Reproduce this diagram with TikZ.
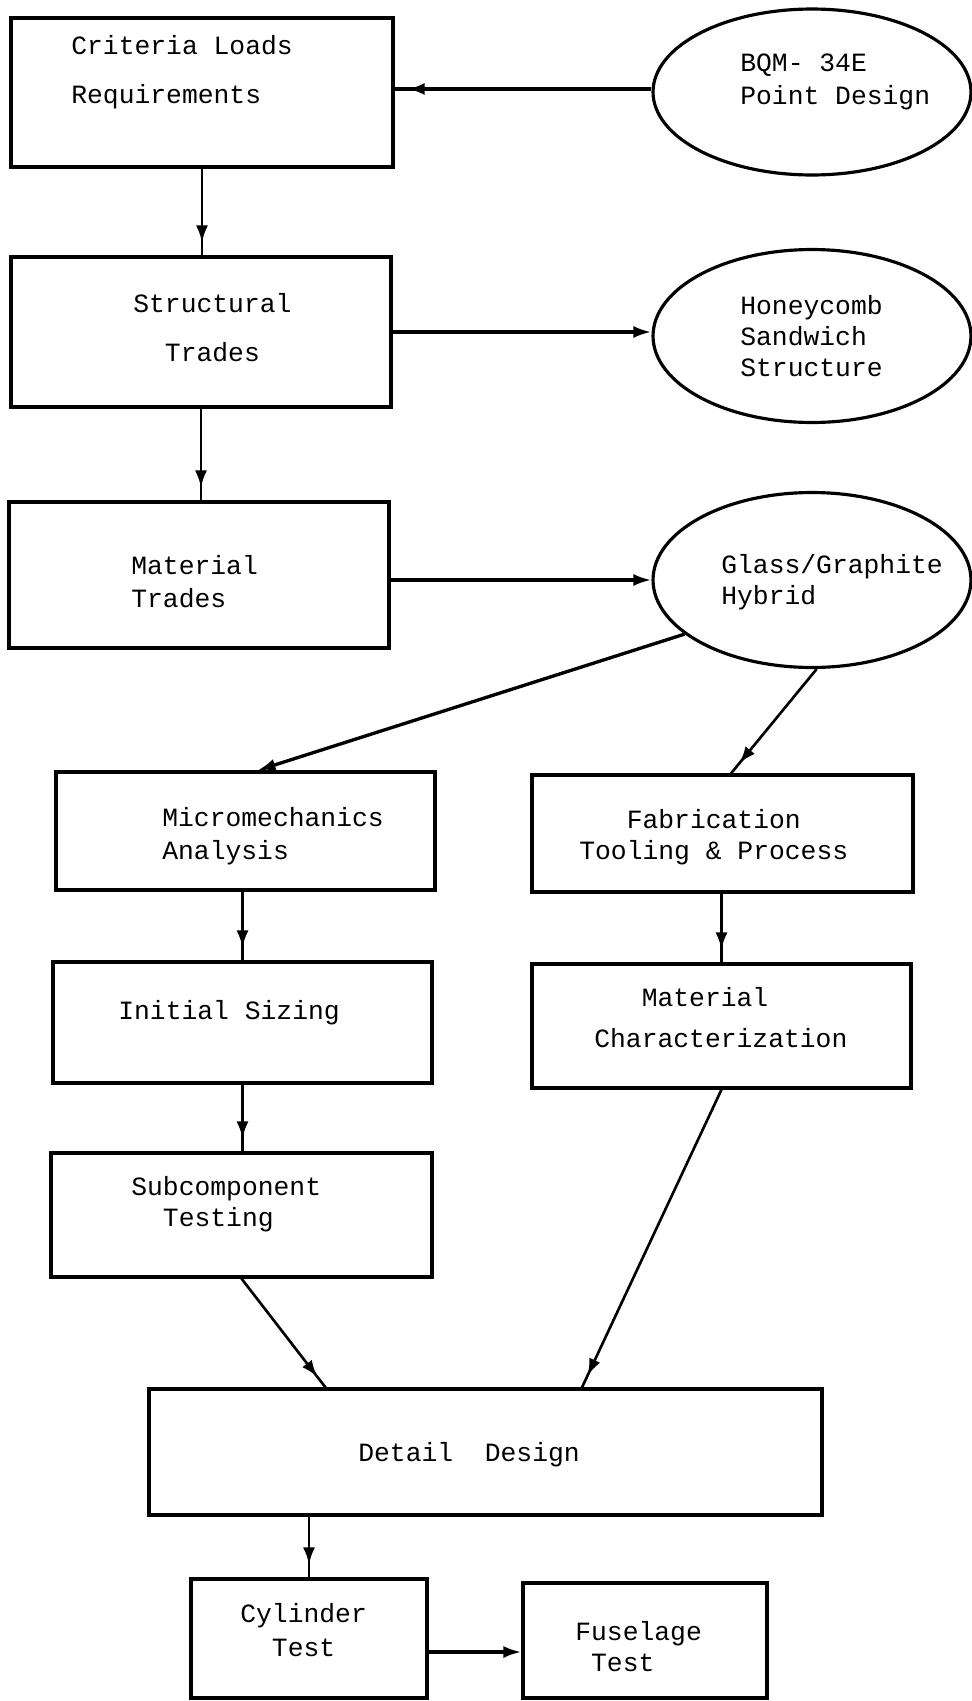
\documentclass[tikz,border=0pt]{standalone}
\usepackage{fontspec}
\usepackage{tikz}
\usetikzlibrary{arrows.meta}
\usetikzlibrary{decorations.markings}
\usetikzlibrary{shapes.geometric}
\newfontfamily\typewr{Liberation Mono}

\tikzset{
  blk/.style={draw, rectangle, line width=1.8pt, inner sep=0pt},
  oval/.style={draw, ellipse, line width=1.8pt, inner sep=0pt},
  txt/.style={anchor=west, inner sep=0pt, align=left,
    font=\typewr\fontsize{15}{17.6}\selectfont},
  flow/.style={line width=1.5pt, postaction={decorate},
    decoration={markings, mark=at position -0.26cm with
      {\arrow{Latex[length=0.34cm, width=0.24cm]}}}},
  flowto/.style={line width=1.9pt, -{Latex[length=0.36cm, width=0.24cm]}}
}

\begin{document}
\begin{tikzpicture}[x=0.02cm, y=-0.02cm]
  \useasboundingbox (0, 0) rectangle (971, 1701);

  % boxes
  \node [blk, minimum width=7.64cm, minimum height=2.98cm] (crit) at (202, 92.5) {};
  \node [blk, minimum width=7.6cm, minimum height=3cm] (struct) at (201, 332) {};
  \node [blk, minimum width=7.6cm, minimum height=2.92cm] (mattr) at (199, 575) {};
  \node [blk, minimum width=7.58cm, minimum height=2.36cm] (micro) at (245.5, 831) {};
  \node [blk, minimum width=7.62cm, minimum height=2.34cm] (fab) at (722.5, 833.5) {};
  \node [blk, minimum width=7.58cm, minimum height=2.42cm] (init) at (242.5, 1022.5) {};
  \node [blk, minimum width=7.58cm, minimum height=2.48cm] (mchar) at (721.5, 1026) {};
  \node [blk, minimum width=7.62cm, minimum height=2.48cm] (subc) at (241.5, 1215) {};
  \node [blk, minimum width=13.46cm, minimum height=2.52cm] (detail) at (485.5, 1452) {};
  \node [blk, minimum width=4.72cm, minimum height=2.38cm] (cyl) at (309, 1638.5) {};
  \node [blk, minimum width=4.88cm, minimum height=2.3cm] (fus) at (645, 1640.5) {};

  % ellipses
  \node [oval, minimum width=6.36cm, minimum height=3.32cm] (bqm) at (812, 92) {};
  \node [oval, minimum width=6.36cm, minimum height=3.46cm] (honey) at (812, 336) {};
  \node [oval, minimum width=6.36cm, minimum height=3.5cm] (glass) at (812, 580) {};

  % texts
  \node [txt] (crittext) at (71, 72.5) {Criteria Loads\\[0.36cm]Requirements};
  \node [txt] (bqmtext) at (740, 81.5) {BQM- 34E\\[0.04cm]Point Design};
  \node [txt] (structtext) at (133, 327.5) {Structural\\[0.36cm]\phantom{xx}Trades};
  \node [txt] (honeytext) at (740, 336) {Honeycomb\\Sandwich\\Structure};
  \node [txt] (mattrtext) at (131, 581.5) {Material\\[0.04cm]Trades};
  \node [txt] (glasstext) at (721, 582.5) {Glass/Graphite\\Hybrid};
  \node [txt] (microtext) at (162, 836.5) {Micromechanics\\[0.04cm]Analysis};
  \node [txt] (fabtext) at (579, 837.5) {\phantom{xxx}Fabrication\\Tooling \& Process};
  \node [txt] (inittext) at (118, 1013) {Initial Sizing};
  \node [txt] (mchartext) at (594, 1017.5) {\phantom{xxx}Material\\[0.2cm]Characterization};
  \node [txt] (subctext) at (131, 1204) {Subcomponent\\\phantom{xx}Testing};
  \node [txt] (detailtext) at (358, 1455) {Detail~~Design};
  \node [txt] (cyltext) at (240, 1630) {Cylinder\\[0.06cm]\phantom{xx}Test};
  \node [txt] (fustext) at (575, 1647) {Fuselage\\\phantom{x}Test};

  % connectors
  \coordinate (bqmout) at ([yshift=0.06cm]bqm.west);
  \draw [flow, line width=1.9pt] (bqmout) -- (bqmout -| crit.east);
  \draw [flow] (crit.south) -- (crit.south |- struct.north);
  \draw [flowto] (struct.east) -- (struct.east -| honey.west);
  \draw [flow] (struct.south) -- (struct.south |- mattr.north);
  \draw [flowto] (glass.west -| mattr.east) -- (glass.west);
  \draw [flowto] (glass.203) -- ([xshift=0.24cm]micro.north);
  \draw [flow] (glass.-87) -- ([xshift=0.17cm]fab.north);
  \draw [flow] (init.north |- micro.south) -- (init.north);
  \draw [flow] (mchar.north |- fab.south) -- (mchar.north);
  \draw [flow] (init.south) -- (init.south |- subc.north);
  \draw [flow] (subc.south) -- ([xshift=-3.2cm]detail.north);
  \draw [flow] (mchar.south) -- ([xshift=1.93cm]detail.north);
  \draw [flow] (cyl.north |- detail.south) -- (cyl.north);
  \coordinate (cylout) at ([yshift=-0.27cm]cyl.east);
  \draw [flowto] (cylout) -- (cylout -| fus.west);
\end{tikzpicture}
\end{document}
